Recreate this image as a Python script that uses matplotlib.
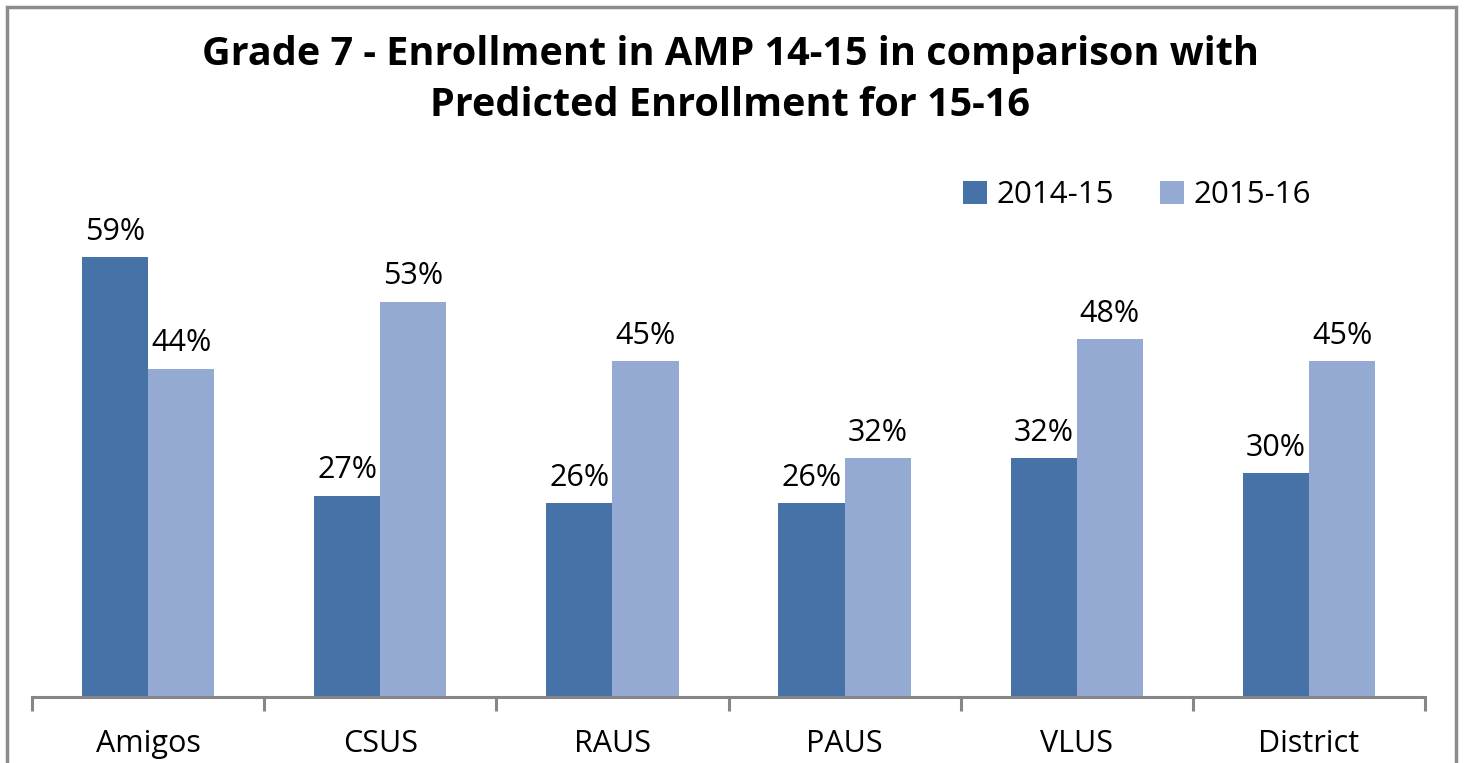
import numpy as np
import matplotlib
matplotlib.use("Agg")
import matplotlib.pyplot as plt
from matplotlib.patches import Rectangle

categories = ["Amigos", "CSUS", "RAUS", "PAUS", "VLUS", "District"]
enroll_1415 = [59, 27, 26, 26, 32, 30]
enroll_1516 = [44, 53, 45, 32, 48, 45]
series_names = ["2014-15", "2015-16"]

dark = "#4672A8"
light = "#95AAD2"

plt.rcParams['font.family'] = ['Open Sans', 'DejaVu Sans']

fig = plt.figure(figsize=(14.66, 7.63), dpi=100)
ax = fig.add_axes([32/1466, 1-697/763, (1425-32)/1466, (697-175)/763])

x = np.arange(len(categories))
w = 0.285
b1 = ax.bar(x - w/2, enroll_1415, w, color=dark, label=series_names[0])
b2 = ax.bar(x + w/2, enroll_1516, w, color=light, label=series_names[1])

for bars, vals in ((b1, enroll_1415), (b2, enroll_1516)):
    for r, v in zip(bars, vals):
        ax.text(r.get_x() + r.get_width()/2, v + 1.4, f"{v}%", ha="center",
                va="bottom", fontsize=22)

ax.set_xlim(-0.5, len(categories) - 0.5)
ax.set_ylim(0, 70)
for s in ("top", "right", "left"):
    ax.spines[s].set_visible(False)
ax.spines["bottom"].set_color("#868686")
ax.spines["bottom"].set_linewidth(2.2)
ax.set_yticks([])
ax.set_xticks(np.arange(len(categories) + 1) - 0.5, minor=False)
ax.set_xticklabels([])
ax.tick_params(axis="x", which="major", length=10, width=2.2, color="#868686")
ax.set_xticks(x, minor=True)
ax.set_xticklabels(categories, minor=True, fontsize=22)
ax.tick_params(axis="x", which="minor", length=0, pad=23)

fig.text(0.498, 1-55/763, "Grade 7 - Enrollment in AMP 14-15 in comparison with",
         ha="center", va="center", fontsize=28.5, fontweight="bold")
fig.text(0.498, 1-106/763, "Predicted Enrollment for 15-16",
         ha="center", va="center", fontsize=28.5, fontweight="bold")

fig.legend(handles=[b1, b2], labels=series_names, loc="center",
           bbox_to_anchor=(1137/1466, 1-195/763), ncol=2, frameon=False,
           fontsize=22.5, handlelength=0.75, handleheight=0.75,
           handletextpad=0.3, columnspacing=1.5)

fig.patches.append(Rectangle((7/1466, -0.1), (1456-7)/1466, 0.1 + (763-7)/763,
                             transform=fig.transFigure, fill=False,
                             edgecolor="#8c8c8c", linewidth=2.5))

fig.savefig("out.png", dpi=100)
